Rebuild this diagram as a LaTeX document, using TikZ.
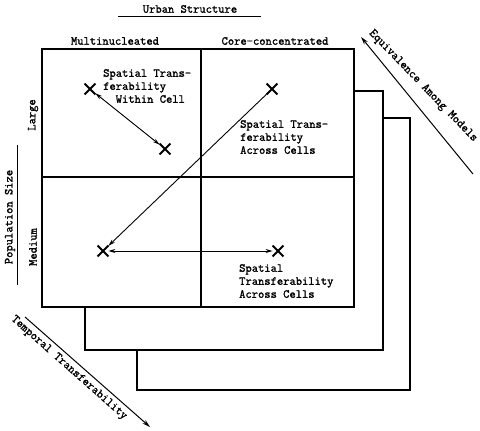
\documentclass[tikz,border=0pt]{standalone}
\usepackage{fontspec}
\newfontfamily\typefont[RawFeature={embolden=1.5}]{Latin Modern Mono}
\usetikzlibrary{arrows.meta,shapes.misc}

\begin{document}
\begin{tikzpicture}[x=1pt,y=-1pt,
  frame/.style={line width=2.6pt},
  cellline/.style={line width=1.6pt},
  xmark/.style={cross out,draw,line width=1.8pt,minimum size=9pt,inner sep=0pt},
  transfer/.style={line width=0.9pt,-{Stealth[length=7pt,width=4pt]}},
  both/.style={line width=0.9pt,{Stealth[length=7pt,width=4pt]}-{Stealth[length=7pt,width=4pt]}},
  axis/.style={line width=1pt,-{Stealth[length=8pt,width=4.5pt]}},
  lbl/.style={font=\typefont\fontsize{12.2}{13}\selectfont,inner sep=0pt}]
\useasboundingbox (0,0) rectangle (480,431);
\draw[frame] (383,118) -- (410,118) -- (410,390) -- (137,390) -- (137,350);
\draw[frame] (354,91) -- (383,91) -- (383,350) -- (85,350) -- (85,307);
\draw[frame] (42,49) rectangle (354,307);
\draw[cellline] (201,49) -- (201,307);
\draw[cellline] (42,177) -- (354,177);
\node[lbl] (urban) at (190,9) {Urban Structure};
\draw[line width=1pt] (118,16) -- (261,16);
\node[lbl] (multi) at (115,41) {Multinucleated};
\node[lbl] (core) at (275,41) {Core-concentrated};
\node[lbl,rotate=90] (large) at (33,115) {Large};
\node[lbl,rotate=90] (medium) at (33,247) {Medium};
\node[lbl,rotate=90] (popsize) at (10,217) {Population Size};
\draw[line width=1pt] (17,145) -- (17,285);
\node[lbl,align=left,anchor=north west] (within) at (103,69)
  {Spatial Trans-\\ferability\\\hphantom{xx}Within Cell};
\node[lbl,align=left,anchor=north west] (across) at (240,120)
  {Spatial Trans-\\ferability\\Across Cells};
\node[lbl,align=left,anchor=north west] (acrossb) at (239,264)
  {Spatial\\Transferability\\Across Cells};
\node[xmark] (wa) at (90,89) {};
\node[xmark] (wb) at (165,149) {};
\node[xmark] (ca) at (272,89) {};
\node[xmark] (cb) at (103,251) {};
\node[xmark] (cc) at (278,251) {};
\draw[both] (wa) -- (wb);
\draw[transfer] (ca) -- (cb);
\draw[both] (cb) -- (cc);
\coordinate (eqfrom) at (473,174);
\coordinate (eqto) at (361,37);
\draw[axis] (eqfrom) -- (eqto);
\node[lbl,rotate=-46] (equiv) at (423,86) {Equivalence Among Models};
\coordinate (tfrom) at (25,317);
\coordinate (tto) at (150,427);
\draw[axis] (tfrom) -- (tto);
\node[lbl,rotate=-41.5] (temporal) at (69,368) {Temporal Transferability};
\end{tikzpicture}
\end{document}
